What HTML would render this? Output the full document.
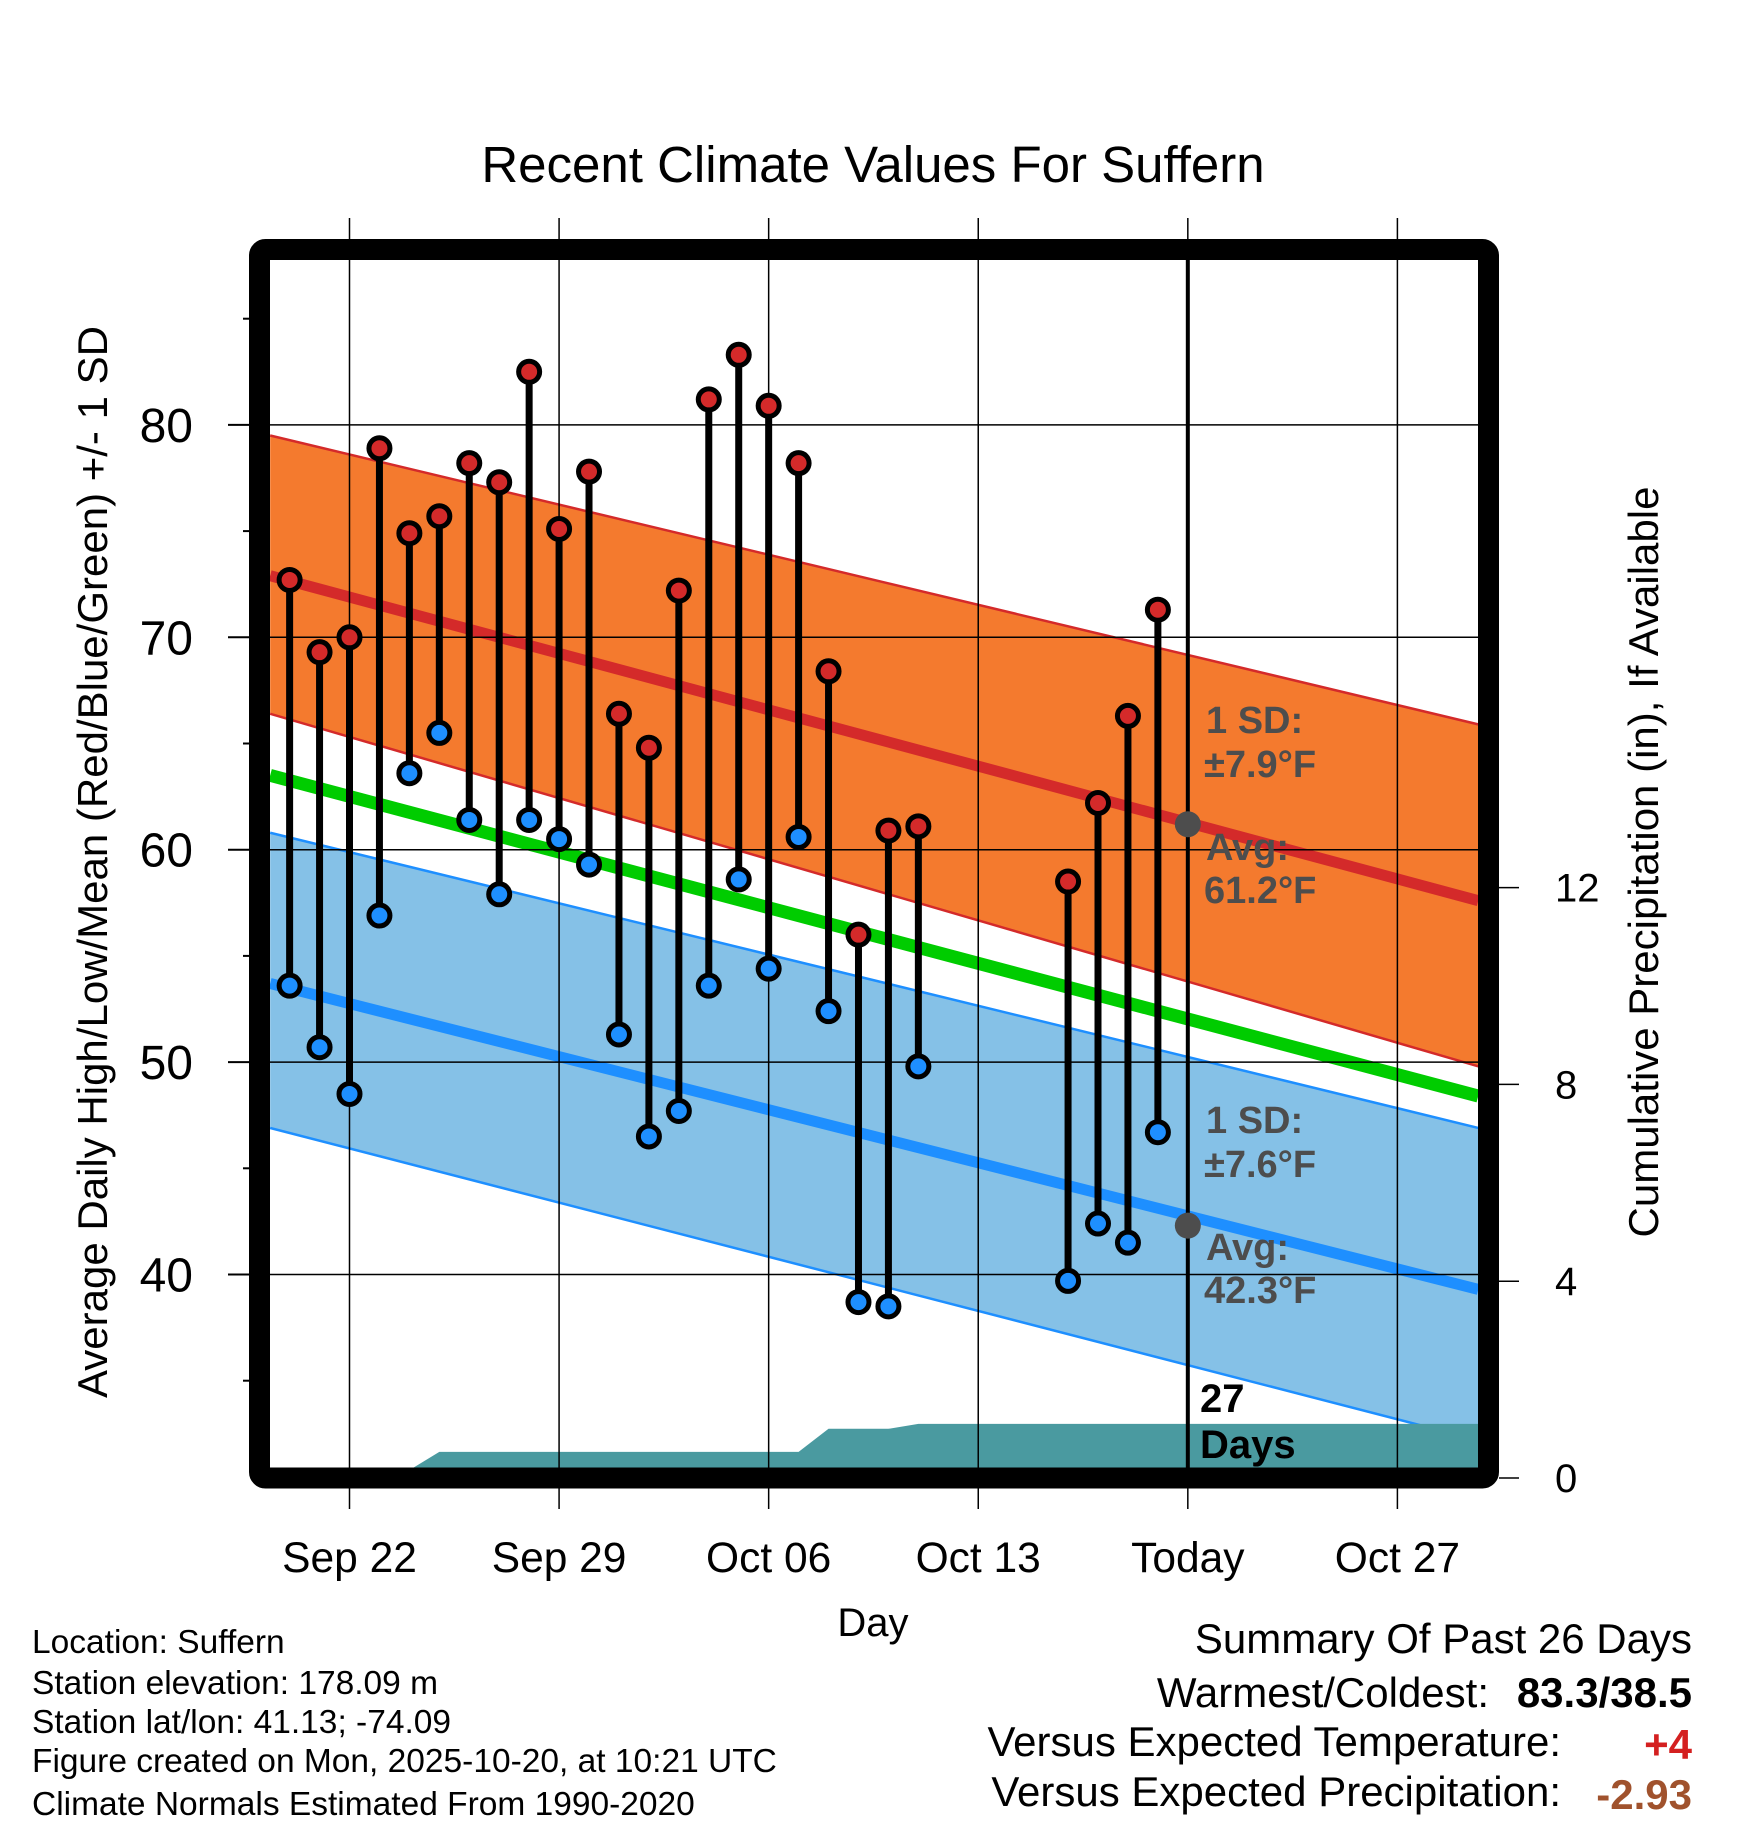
<!DOCTYPE html>
<html><head><meta charset="utf-8"><style>
html,body{margin:0;padding:0;background:#fff;}
svg{display:block;font-family:"Liberation Sans",Arial,sans-serif;}
</style></head><body>
<svg id="chart" width="1748" height="1828" viewBox="0 0 1748 1828" xmlns="http://www.w3.org/2000/svg">
<defs><clipPath id="plotclip"><rect x="270" y="260" width="1208" height="1208"/></clipPath></defs>
<text x="873" y="182" font-size="51" text-anchor="middle">Recent Climate Values For Suffern</text>
<g id="plot" clip-path="url(#plotclip)"></g>
<g id="over"></g>
<rect x="259.5" y="249.5" width="1229" height="1228.5" rx="6" fill="none" stroke="#000" stroke-width="21"/>
<g id="axes"></g>
<text transform="translate(107,862) rotate(-90)" font-size="42" text-anchor="middle">Average Daily High/Low/Mean (Red/Blue/Green) +/- 1 SD</text>
<text transform="translate(1658,862) rotate(-90)" font-size="42" text-anchor="middle">Cumulative Precipitation (in), If Available</text>
<text x="873" y="1636" font-size="40" text-anchor="middle">Day</text>
<g font-size="33.5">
<text x="32" y="1653">Location: Suffern</text>
<text x="32" y="1694">Station elevation: 178.09 m</text>
<text x="32" y="1733">Station lat/lon: 41.13; -74.09</text>
<text x="32" y="1772">Figure created on Mon, 2025-10-20, at 10:21 UTC</text>
<text x="32" y="1815">Climate Normals Estimated From 1990-2020</text>
</g>
<g font-size="42">
<text x="1692" y="1653" text-anchor="end">Summary Of Past 26 Days</text>
<text x="1489" y="1707" text-anchor="end">Warmest/Coldest:</text>
<text x="1692" y="1707" text-anchor="end" font-weight="bold">83.3/38.5</text>
<text x="1561" y="1756" text-anchor="end">Versus Expected Temperature:</text>
<text x="1692" y="1759" text-anchor="end" font-weight="bold" fill="#d42020">+4</text>
<text x="1561" y="1806" text-anchor="end">Versus Expected Precipitation:</text>
<text x="1692" y="1809" text-anchor="end" font-weight="bold" fill="#a0522d">-2.93</text>
</g>
</svg>
<script>
const days=[-2,-1,0,1,2,3,4,5,6,7,8,9,10,11,12,13,14,15,16,17,18,19,24,25,26,27];
const highs=[72.7,69.3,70.0,78.9,74.9,75.7,78.2,77.3,82.5,75.1,77.8,66.4,64.8,72.2,81.2,83.3,80.9,78.2,68.4,56.0,60.9,61.1,58.5,62.2,66.3,71.3];
const lows=[53.6,50.7,48.5,56.9,63.6,65.5,61.4,57.9,61.4,60.5,59.3,51.3,46.5,47.7,53.6,58.6,54.4,60.6,52.4,38.7,38.5,49.8,39.7,42.4,41.5,46.7];
const normDays=[-2.65,37.7];
const normHigh=[72.9,57.6];
const highUpper=[79.5,65.9];
const highLower=[66.4,49.8];
const normMean=[63.5,48.4];
const normLow=[53.7,39.3];
const lowUpper=[60.8,46.9];
const lowLower=[46.9,32.2];
const todayAvg=[61.2,42.3];
const precipDays=[-2,-1,0,1,2,3,4,5,6,7,8,9,10,11,12,13,14,15,16,17,18,19,20,21,22,23,24,25,26,27,37.7];
const precipCum=[0,0,0,0,0.16,0.53,0.53,0.53,0.53,0.53,0.53,0.53,0.53,0.53,0.53,0.53,0.53,0.53,1.0,1.0,1.0,1.1,1.1,1.1,1.1,1.1,1.1,1.1,1.1,1.1,1.1];
const xTickDays=[0,7,14,21,28,35];
const xTickLabels=["Sep 22","Sep 29","Oct 06","Oct 13","Today","Oct 27"];
const yTicks=[40,50,60,70,80];
const yMinor=[35,45,55,65,75,85];
const y2Ticks=[0,4,8,12];
const todayDay=28;

const X=d=>349.5+d*29.94;
const Y=v=>1274.5-(v-40)*21.24;
const Y2=p=>1478-p*49.2;
const NS="http://www.w3.org/2000/svg";
function mk(parent,tag,attrs){const e=document.createElementNS(NS,tag);for(const k in attrs)e.setAttribute(k,attrs[k]);parent.appendChild(e);return e;}
const plot=document.getElementById('plot'),over=document.getElementById('over'),axes=document.getElementById('axes');
const x0=X(normDays[0]),x1=X(normDays[1]);
function band(up,lo,fill,edge,name){
  const p=mk(plot,'polygon',{points:`${x0},${Y(up[0])} ${x1},${Y(up[1])} ${x1},${Y(lo[1])} ${x0},${Y(lo[0])}`,fill:fill});
  
  
  [up,lo].forEach(a=>{const l=mk(plot,'line',{x1:x0,y1:Y(a[0]),x2:x1,y2:Y(a[1]),stroke:edge,'stroke-width':2.5});
  
  });
}
band(highUpper,highLower,'#f47a2e','#d42a2a','high-sd-band');
band(lowUpper,lowLower,'#85c1e7','#1e8fff','low-sd-band');
function nline(vals,color,w,name){const l=mk(plot,'line',{x1:x0,y1:Y(vals[0]),x2:x1,y2:Y(vals[1]),stroke:color,'stroke-width':w});

}
nline(normMean,'#00cc00',13,'mean-normal-line');
nline(normHigh,'#d42a2a',11,'high-normal-line');
nline(normLow,'#1e8fff',11,'low-normal-line');
let pts=precipDays.map((d,i)=>`${X(d)},${Y2(precipCum[i])}`);
pts.push(`${X(precipDays[precipDays.length-1])},1480`,`${X(precipDays[0])},1480`);
const pa=mk(plot,'polygon',{points:pts.join(' '),fill:'#4a9aa0'});


xTickDays.forEach(d=>{const g=mk(plot,'line',{x1:X(d),y1:250,x2:X(d),y2:1480,stroke:'#000','stroke-width':1.5});

});
yTicks.forEach(v=>{const g=mk(plot,'line',{x1:260,y1:Y(v),x2:1490,y2:Y(v),stroke:'#000','stroke-width':1.5});

});
const tl=mk(over,'line',{x1:X(todayDay),y1:260,x2:X(todayDay),y2:1468,stroke:'#000','stroke-width':4});


days.forEach((d,i)=>{
  const l=mk(over,'line',{x1:X(d),y1:Y(highs[i]),x2:X(d),y2:Y(lows[i]),stroke:'#000','stroke-width':7});
  
  
  const h=mk(over,'circle',{cx:X(d),cy:Y(highs[i]),r:10.5,fill:'#d42a2a',stroke:'#000','stroke-width':5});
  
  
  const lo=mk(over,'circle',{cx:X(d),cy:Y(lows[i]),r:10.5,fill:'#1e8fff',stroke:'#000','stroke-width':5});
  
  
});
[[todayAvg[0],'today-avg-high-dot'],[todayAvg[1],'today-avg-low-dot']].forEach(([v,n])=>{const c=mk(over,'circle',{cx:X(todayDay),cy:Y(v),r:13,fill:'#4d4d4d'});

});
function txt(parent,x,y,s,attrs,name){const t=mk(parent,'text',Object.assign({x:x,y:y},attrs));t.textContent=s;

return t;}
const ann={'font-size':38,'font-weight':'bold',fill:'#4d4d4d'};
txt(over,1206,733,'1 SD:',ann,'high-sd-label');
txt(over,1204,777,'±7.9°F',ann,'high-sd-value');
txt(over,1206,860,'Avg:',ann,'high-avg-label');
txt(over,1204,903,'61.2°F',ann,'high-avg-value');
txt(over,1206,1133,'1 SD:',ann,'low-sd-label');
txt(over,1204,1177,'±7.6°F',ann,'low-sd-value');
txt(over,1206,1260,'Avg:',ann,'low-avg-label');
txt(over,1204,1303,'42.3°F',ann,'low-avg-value');
txt(over,1200,1412,'27',{'font-size':40,'font-weight':'bold'},'days-count-number');
txt(over,1200,1458,'Days',{'font-size':40,'font-weight':'bold'},'days-count-label');
xTickDays.forEach((d,i)=>{
  const a=mk(axes,'line',{x1:X(d),y1:218,x2:X(d),y2:249,stroke:'#000','stroke-width':1.5});
  
  
  const b=mk(axes,'line',{x1:X(d),y1:1478,x2:X(d),y2:1509,stroke:'#000','stroke-width':1.5});
  
  
  txt(axes,X(d),1572,xTickLabels[i],{'font-size':42.5,'text-anchor':'middle'},'x-tick-label');
});
yTicks.forEach(v=>{
  const a=mk(axes,'line',{x1:228,y1:Y(v),x2:250,y2:Y(v),stroke:'#000','stroke-width':2});
  
  
  txt(axes,193,Y(v)+17,String(v),{'font-size':48,'text-anchor':'end'},'y-tick-label');
});
yMinor.forEach(v=>{
  const a=mk(axes,'line',{x1:243,y1:Y(v),x2:250,y2:Y(v),stroke:'#000','stroke-width':2});
  
  
});
y2Ticks.forEach(p=>{
  const a=mk(axes,'line',{x1:1499,y1:Y2(p),x2:1519,y2:Y2(p),stroke:'#000','stroke-width':1.5});
  
  
  txt(axes,1555,Y2(p)+14,String(p),{'font-size':40},'y2-tick-label');
});
</script>
</body></html>
